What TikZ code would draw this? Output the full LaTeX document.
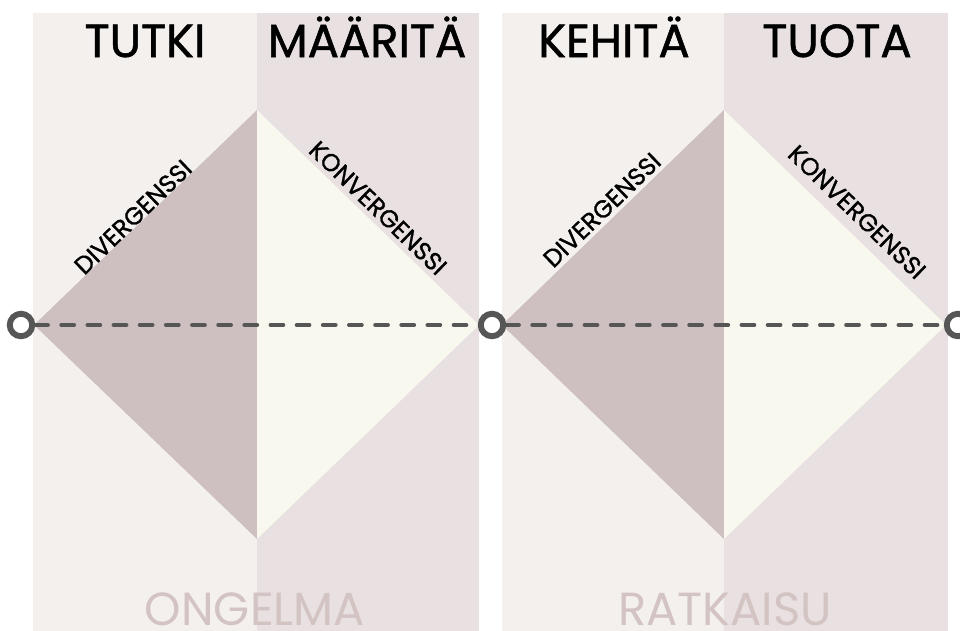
\documentclass[tikz,border=0pt]{standalone}
\usepackage{fontspec}
\setmainfont{Poppins}
\newfontfamily\paksu{Poppins}[FakeBold=1.2]
\definecolor{vaalea}{HTML}{F3F0EE}
\definecolor{tumma}{HTML}{E8E0E1}
\definecolor{roosa}{HTML}{CEC0C1}
\definecolor{kerma}{HTML}{F8F8EE}
\definecolor{harmaa}{HTML}{565656}
\definecolor{haalea}{HTML}{D3C3C3}
\tikzset{
  otsikko/.style={font=\paksu\fontsize{33}{33}\selectfont, text=black, anchor=base},
  alaotsikko/.style={font=\fontsize{33}{33}\selectfont, text=haalea, anchor=base, inner sep=0pt},
  vino/.style={font=\paksu\fontsize{17.5}{17.5}\selectfont, text=black, inner sep=0pt},
  pallo/.style={circle, draw=harmaa, line width=4.2pt, fill=white, minimum size=16pt, inner sep=0pt},
  viiva/.style={draw=harmaa, line width=2.9pt, line cap=round, dash pattern=on 9pt off 9.6pt}
}
\begin{document}
\begin{tikzpicture}[x=0.025cm, y=-0.025cm]
  \useasboundingbox (0,0) rectangle (960,631);
  % double diamond
  \def\T{110}
  \def\M{325}
  \def\B{539}

  % taustat
  \fill[vaalea] (33,13) rectangle (257,631);
  \fill[tumma] (257,13) rectangle (479,631);
  \fill[vaalea] (502,13) rectangle (724,631);
  \fill[tumma] (724,13) rectangle (948,631);

  % timantit
  \fill[roosa] (34,\M) -- (257,\T) -- (257,\B) -- cycle;
  \fill[kerma] (257,\T) -- (479,\M) -- (257,\B) -- cycle;
  \fill[roosa] (502,\M) -- (724,\T) -- (724,\B) -- cycle;
  \fill[kerma] (724,\T) -- (946,\M) -- (724,\B) -- cycle;

  % otsikot
  \node[otsikko] (tutki) at (145,57) {TUTKI};
  \node[otsikko] (maarita) at (367,57) {MÄÄRITÄ};
  \node[otsikko] (kehita) at (614,57) {KEHITÄ};
  \node[otsikko] (tuota) at (837,57) {TUOTA};

  % vinot tekstit
  \node[vino, rotate=44] (div1) at (133,217) {DIVERGENSSI};
  \node[vino, rotate=-44] (kon1) at (378,208) {KONVERGENSSI};
  \node[vino, rotate=44] (div2) at (602,210) {DIVERGENSSI};
  \node[vino, rotate=-44] (kon2) at (857,212) {KONVERGENSSI};

  % alaotsikot
  \node[alaotsikko] (ongelma) at (255,625) {ONGELMA};
  \node[alaotsikko] (ratkaisu) at (725,625) {RATKAISU};

  % aikajana
  \node[pallo] (alku) at (21,\M) {};
  \node[pallo] (keski) at (492,\M) {};
  \node[pallo] (loppu) at (958,\M) {};
  \draw[viiva] (alku) -- (keski);
  \draw[viiva] (keski) -- (loppu);
\end{tikzpicture}
\end{document}
